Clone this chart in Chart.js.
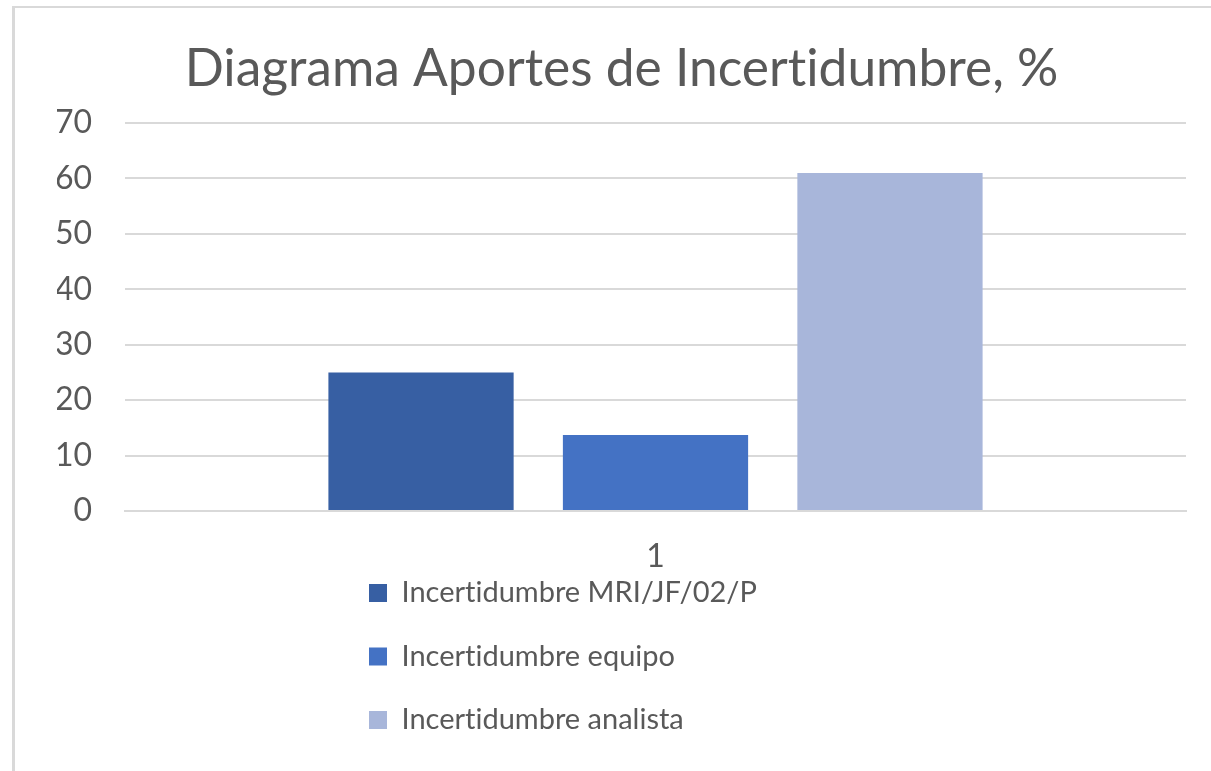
<!DOCTYPE html>
<html>
<head>
<meta charset="utf-8">
<script src="https://cdn.jsdelivr.net/npm/chart.js@4/dist/chart.umd.min.js"></script>
<style>
  html, body { margin: 0; padding: 0; background: #fff; }
  #wrap { position: relative; width: 1211px; height: 771px; overflow: hidden; }
  #frame { position: absolute; left: 12px; top: 6px; width: 1400px; height: 1000px;
    border-left: 3px solid #d9d9d9; border-top: 2px solid #d9d9d9; }
  #chart { position: absolute; left: 0; top: 0; }
</style>
</head>
<body>
<div id="wrap">
  <div id="frame"></div>
  <canvas id="chart" width="1211" height="771"></canvas>
</div>
<script>
// ── Data ──
const categories = ['1'];
const seriesNames = ['Incertidumbre MRI/JF/02/P', 'Incertidumbre equipo', 'Incertidumbre analista'];
const seriesValues = [[25], [13.7], [61]];
const seriesColors = ['#375fa3', '#4472c4', '#a8b6da'];
const yTicks = [0, 10, 20, 30, 40, 50, 60, 70];

const FONT = "Lato, 'Open Sans', sans-serif";
const INK = '#595959';

// legend sits under the plot, left of centre, one item per row
const LEG_BOX_X = 369;
const LEG_ROW1_Y = 593;
const LEG_PAD = 34.5;
const LEG_SIZE = 29;

const legendMove = {
  id: 'legendMove',
  afterLayout(chart) {
    const l = chart.legend;
    if (!l) return;
    const w = l.width, h = l.height;
    l.left = LEG_BOX_X - LEG_PAD;
    l.top = LEG_ROW1_Y - LEG_SIZE / 2 - LEG_PAD;
    l.right = l.left + w;
    l.bottom = l.top + h;
  }
};

// no "ti" ligatures, like the original
const plainText = {
  id: 'plainText',
  beforeDraw(chart) {
    if ('textRendering' in chart.ctx) chart.ctx.textRendering = 'optimizeSpeed';
  }
};

new Chart(document.getElementById('chart'), {
  type: 'bar',
  data: {
    labels: categories,
    datasets: seriesNames.map((name, i) => ({
      label: name,
      data: seriesValues[i],
      backgroundColor: seriesColors[i],
      borderWidth: 0,
      categoryPercentage: 0.663,
      barPercentage: 0.79,
    })),
  },
  options: {
    responsive: false,
    animation: false,
    layout: { padding: { left: 57, right: 25, top: 0, bottom: 200 } },
    plugins: {
      title: {
        display: true,
        text: 'Diagrama Aportes de Incertidumbre, %',
        color: INK,
        font: { family: FONT, size: 51.5, weight: 'normal' },
        padding: { top: 38.5, bottom: 22.7 },
      },
      legend: {
        position: 'chartArea',
        align: 'start',
        labels: {
          color: INK,
          font: { family: FONT, size: LEG_SIZE },
          boxWidth: 18, boxHeight: 18,
          padding: LEG_PAD,
        },
      },
      tooltip: { enabled: false },
    },
    scales: {
      x: {
        grid: { display: false, drawTicks: false },
        border: { display: true, color: '#d9d9d9', width: 2 },
        ticks: { color: INK, font: { family: FONT, size: 32 }, padding: 26 },
        afterFit: s => { s.height = 60; },
      },
      y: {
        min: 0, max: 70,
        afterBuildTicks: s => { s.ticks = yTicks.map(v => ({ value: v })); },
        grid: { color: '#d9d9d9', lineWidth: 2, drawTicks: false },
        border: { display: false },
        ticks: { color: INK, font: { family: FONT, size: 32 }, padding: 33 },
        afterFit: s => { s.width = 68; },
      },
    },
  },
  plugins: [legendMove, plainText],
});
</script>
</body>
</html>
